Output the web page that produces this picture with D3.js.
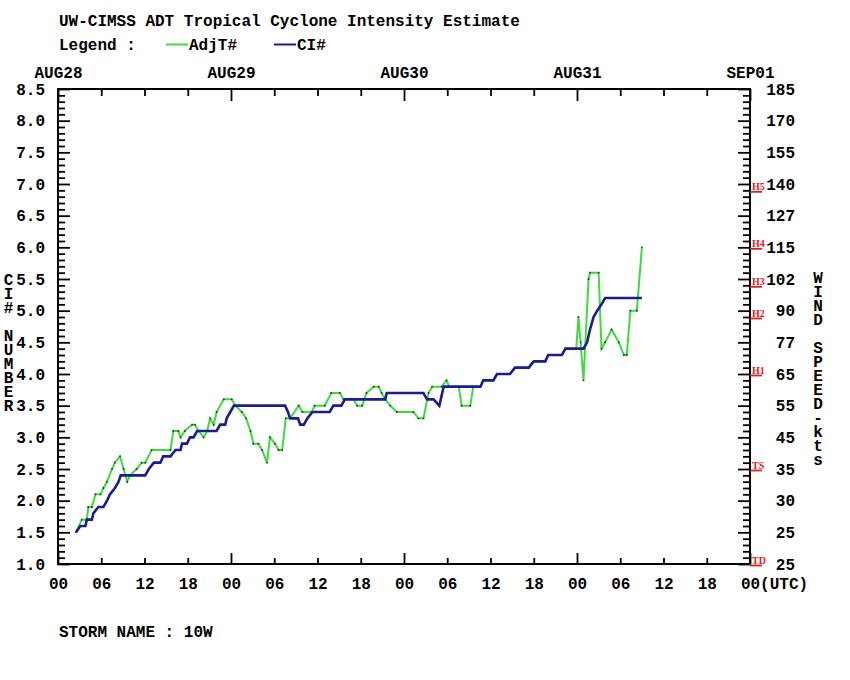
<!DOCTYPE html>
<html><head><meta charset="utf-8">
<script src="https://cdn.jsdelivr.net/npm/d3@7/dist/d3.min.js"></script>
<style>body{margin:0;background:#fff}svg{display:block}</style>
</head><body>
<svg id="c" width="850" height="680"></svg>
<script>
// ---- data (hours after 00Z AUG28) ----
const ciHours  = [2.5,3.1,3.8,4.0,4.7,4.9,5.6,6.3,6.8,7.2,7.9,8.4,8.7,12.1,12.6,13.3,14.2,14.6,15.6,16.3,17.0,17.2,17.9,18.3,18.8,19.3,22.0,22.5,23.2,23.4,23.9,24.4,31.5,31.9,32.2,33.3,33.6,34.1,34.6,35.3,37.7,38.2,39.3,39.8,45.4,45.6,50.7,51.2,52.1,52.9,53.5,58.6,59.0,60.4,60.9,62.7,63.4,65.3,66.0,67.6,68.0,69.9,70.4,72.9,73.4,73.8,74.3,74.8,75.4,75.9,81.0];
const ciValues = [1.5,1.6,1.6,1.7,1.7,1.8,1.9,1.9,2.0,2.1,2.2,2.3,2.4,2.4,2.5,2.6,2.6,2.7,2.7,2.8,2.8,2.9,2.9,3.0,3.0,3.1,3.1,3.2,3.2,3.3,3.4,3.5,3.5,3.4,3.3,3.3,3.2,3.2,3.3,3.4,3.4,3.5,3.5,3.6,3.6,3.7,3.7,3.6,3.6,3.5,3.8,3.8,3.9,3.9,4.0,4.0,4.1,4.1,4.2,4.2,4.3,4.3,4.4,4.4,4.5,4.7,4.9,5.0,5.1,5.2,5.2];
const adjHours  = [2.5,3.3,4.0,4.2,4.7,5.2,5.9,6.3,6.8,7.5,7.9,8.6,9.1,9.6,10.0,10.9,11.6,12.1,13.0,15.6,16.0,16.7,17.0,17.6,18.6,19.0,19.5,20.2,20.7,21.1,21.6,22.0,23.0,24.1,24.6,25.5,26.1,26.7,27.1,27.8,28.3,29.0,29.4,30.1,30.6,31.1,31.6,32.2,33.4,33.9,35.2,35.6,37.0,37.9,39.1,39.6,41.0,41.5,42.2,42.8,43.8,44.5,44.9,45.4,46.1,47.0,49.3,50.0,50.7,51.4,51.9,53.2,53.9,54.3,55.6,56.0,57.2,57.6,58.6,59.0,60.4,60.9,62.7,63.4,65.3,66.0,67.6,68.0,69.9,70.4,71.9,72.2,72.5,72.9,73.6,73.8,75.0,75.4,75.9,76.8,77.8,78.5,78.9,79.4,80.3,81.0];
const adjValues = [1.5,1.7,1.7,1.9,1.9,2.1,2.1,2.2,2.3,2.5,2.6,2.7,2.5,2.3,2.4,2.5,2.6,2.6,2.8,2.8,3.1,3.1,3.0,3.1,3.2,3.2,3.1,3.0,3.1,3.3,3.2,3.4,3.6,3.6,3.5,3.4,3.3,3.1,2.9,2.9,2.8,2.6,3.0,2.9,2.8,2.8,3.3,3.3,3.5,3.4,3.4,3.5,3.5,3.7,3.7,3.6,3.6,3.5,3.5,3.7,3.8,3.8,3.7,3.6,3.5,3.4,3.4,3.3,3.3,3.7,3.8,3.8,3.9,3.8,3.8,3.5,3.5,3.8,3.8,3.9,3.9,4.0,4.0,4.1,4.1,4.2,4.2,4.3,4.3,4.4,4.4,4.9,4.5,3.9,5.5,5.6,5.6,4.4,4.5,4.7,4.5,4.3,4.3,5.0,5.0,6.0];

const ciTickValues = [1.0,1.5,2.0,2.5,3.0,3.5,4.0,4.5,5.0,5.5,6.0,6.5,7.0,7.5,8.0,8.5];
const windLabels   = ["25","25","30","35","45","55","65","77","90","102","115","127","140","155","170","185"];
const dayLabels    = ["AUG28","AUG29","AUG30","AUG31","SEP01"];
const hourLabels   = ["00","06","12","18","00","06","12","18","00","06","12","18","00","06","12","18","00(UTC)"];
const catNames     = ["TD","TS","H1","H2","H3","H4","H5"];
const catValues    = [1.0,2.5,4.0,4.9,5.4,6.0,6.9];

const FONT = "'Liberation Mono', 'DejaVu Sans Mono', monospace";
const svg = d3.select("#c");
const L = 58, R = 750, T = 89, B = 564;
const x = d3.scaleLinear().domain([0, 96]).range([L, R]);
const y = d3.scaleLinear().domain([1.0, 8.5]).range([B, T]);

function txt(s, px, py, opt = {}) {
  return svg.append("text").attr("x", px).attr("y", py)
    .attr("font-family", FONT).attr("font-weight", "bold")
    .attr("font-size", opt.size || 16).attr("fill", opt.fill || "#000")
    .attr("text-anchor", opt.anchor || "start").text(s);
}

// title + legend
txt("UW-CIMSS ADT Tropical Cyclone Intensity Estimate", 59, 26);
txt("Legend :", 59, 50);
svg.append("line").attr("x1", 166).attr("x2", 188).attr("y1", 44.5).attr("y2", 44.5).attr("stroke", "#3ddc3d").attr("stroke-width", 2);
txt("AdjT#", 189, 50);
svg.append("line").attr("x1", 274).attr("x2", 296).attr("y1", 44.5).attr("y2", 44.5).attr("stroke", "#1c1c8e").attr("stroke-width", 2);
txt("CI#", 297, 50);

const minorV = d3.range(10, 86).map(d => d / 10).filter(v => Math.round(v * 10) % 5 !== 0);
const hours6 = d3.range(0, 97, 6);
const minorH = hours6.filter(h => h % 24 !== 0);
const majorH = hours6.filter(h => h % 24 === 0);

function styleAxis(g) {
  g.select(".domain").remove();
  g.selectAll("line").attr("stroke", "#000").attr("stroke-width", 1.8);
  g.selectAll("text").attr("font-family", FONT).attr("font-weight", "bold").attr("font-size", 16).attr("fill", "#000");
}

// left ticks (inward)
svg.append("g").attr("transform", `translate(${L},0)`).call(d3.axisRight(y).tickValues(minorV).tickSize(7).tickFormat("")).call(styleAxis);
svg.append("g").attr("transform", `translate(${L},0)`).call(d3.axisRight(y).tickValues(ciTickValues).tickSize(12).tickFormat("")).call(styleAxis);
svg.append("g").attr("transform", `translate(${L},0)`).call(d3.axisLeft(y).tickValues(ciTickValues).tickSize(0).tickPadding(13).tickFormat(d3.format(".1f"))).call(styleAxis);
// right ticks (inward)
svg.append("g").attr("transform", `translate(${R},0)`).call(d3.axisLeft(y).tickValues(minorV).tickSize(7).tickFormat("")).call(styleAxis);
svg.append("g").attr("transform", `translate(${R},0)`).call(d3.axisLeft(y).tickValues(ciTickValues).tickSize(12).tickFormat("")).call(styleAxis);
const rl = svg.append("g").attr("transform", `translate(${R},0)`).call(d3.axisRight(y).tickValues(ciTickValues).tickSize(0).tickPadding(45).tickFormat((d, i) => windLabels[i])).call(styleAxis);
rl.selectAll("text").attr("text-anchor", "end");
// bottom ticks
svg.append("g").attr("transform", `translate(0,${B})`).call(d3.axisTop(x).tickValues(minorH).tickSize(6).tickFormat("")).call(styleAxis);
svg.append("g").attr("transform", `translate(0,${B})`).call(d3.axisTop(x).tickValues(majorH).tickSize(11).tickFormat("")).call(styleAxis);
const bl = svg.append("g").attr("transform", `translate(0,${B})`).call(d3.axisBottom(x).tickValues(hours6).tickSize(0).tickPadding(14).tickFormat((d, i) => hourLabels[i])).call(styleAxis);
bl.selectAll("text").filter((d, i) => i === hourLabels.length - 1).attr("text-anchor", "start").attr("x", -9.6);
// top ticks
svg.append("g").attr("transform", `translate(0,${T})`).call(d3.axisBottom(x).tickValues(minorH).tickSize(7).tickFormat("")).call(styleAxis);
svg.append("g").attr("transform", `translate(0,${T})`).call(d3.axisBottom(x).tickValues(majorH).tickSize(12).tickFormat("")).call(styleAxis);
svg.append("g").attr("transform", `translate(0,${T})`).call(d3.axisTop(x).tickValues(majorH).tickSize(0).tickPadding(11).tickFormat((d, i) => dayLabels[i])).call(styleAxis);

// frame
svg.append("rect").attr("x", L).attr("y", T).attr("width", R - L).attr("height", B - T)
  .attr("fill", "none").attr("stroke", "#000").attr("stroke-width", 2);

// category markers on right axis
catValues.forEach((v, i) => {
  const yy = y(v);
  svg.append("line").attr("x1", R).attr("x2", R + 12).attr("y1", yy + 1.5).attr("y2", yy + 1.5)
    .attr("stroke", "#e02020").attr("stroke-width", 1.8);
  svg.append("text").attr("x", R + 2).attr("y", yy - 0.3).attr("font-family", "'Liberation Serif', serif")
    .attr("font-weight", "bold").attr("font-size", 10).attr("fill", "#e02020").text(catNames[i]);
});

// series
const adj = adjHours.map((h, i) => [h, adjValues[i]]);
const ci = ciHours.map((h, i) => [h, ciValues[i]]);
const line = d3.line().x(d => x(d[0])).y(d => y(d[1]));
svg.append("path").datum(adj).attr("d", line).attr("fill", "none").attr("stroke", "#3ddc3d").attr("stroke-width", 2);
svg.append("g").selectAll("circle").data(adj).join("circle")
  .attr("cx", d => x(d[0])).attr("cy", d => y(d[1])).attr("r", 0.9).attr("fill", "#1a3a1a");
svg.append("path").datum(ci).attr("d", line).attr("fill", "none").attr("stroke", "#1c1c8e").attr("stroke-width", 2.6);

// vertical axis titles: single text element, stacked upright letters
function vtext(s, px, py) {
  svg.append("text").attr("x", px).attr("y", py)
    .attr("font-family", FONT).attr("font-weight", "bold").attr("font-size", 16).attr("fill", "#000")
    .style("writing-mode", "vertical-rl").style("text-orientation", "upright")
    .style("letter-spacing", "-4px").style("white-space", "pre")
    .text(s);
}
vtext("CI# NUMBER", 8.5, 272);
vtext("WIND SPEED-kts", 818, 270);

txt("STORM NAME : 10W", 59, 637);
</script>
</body></html>
